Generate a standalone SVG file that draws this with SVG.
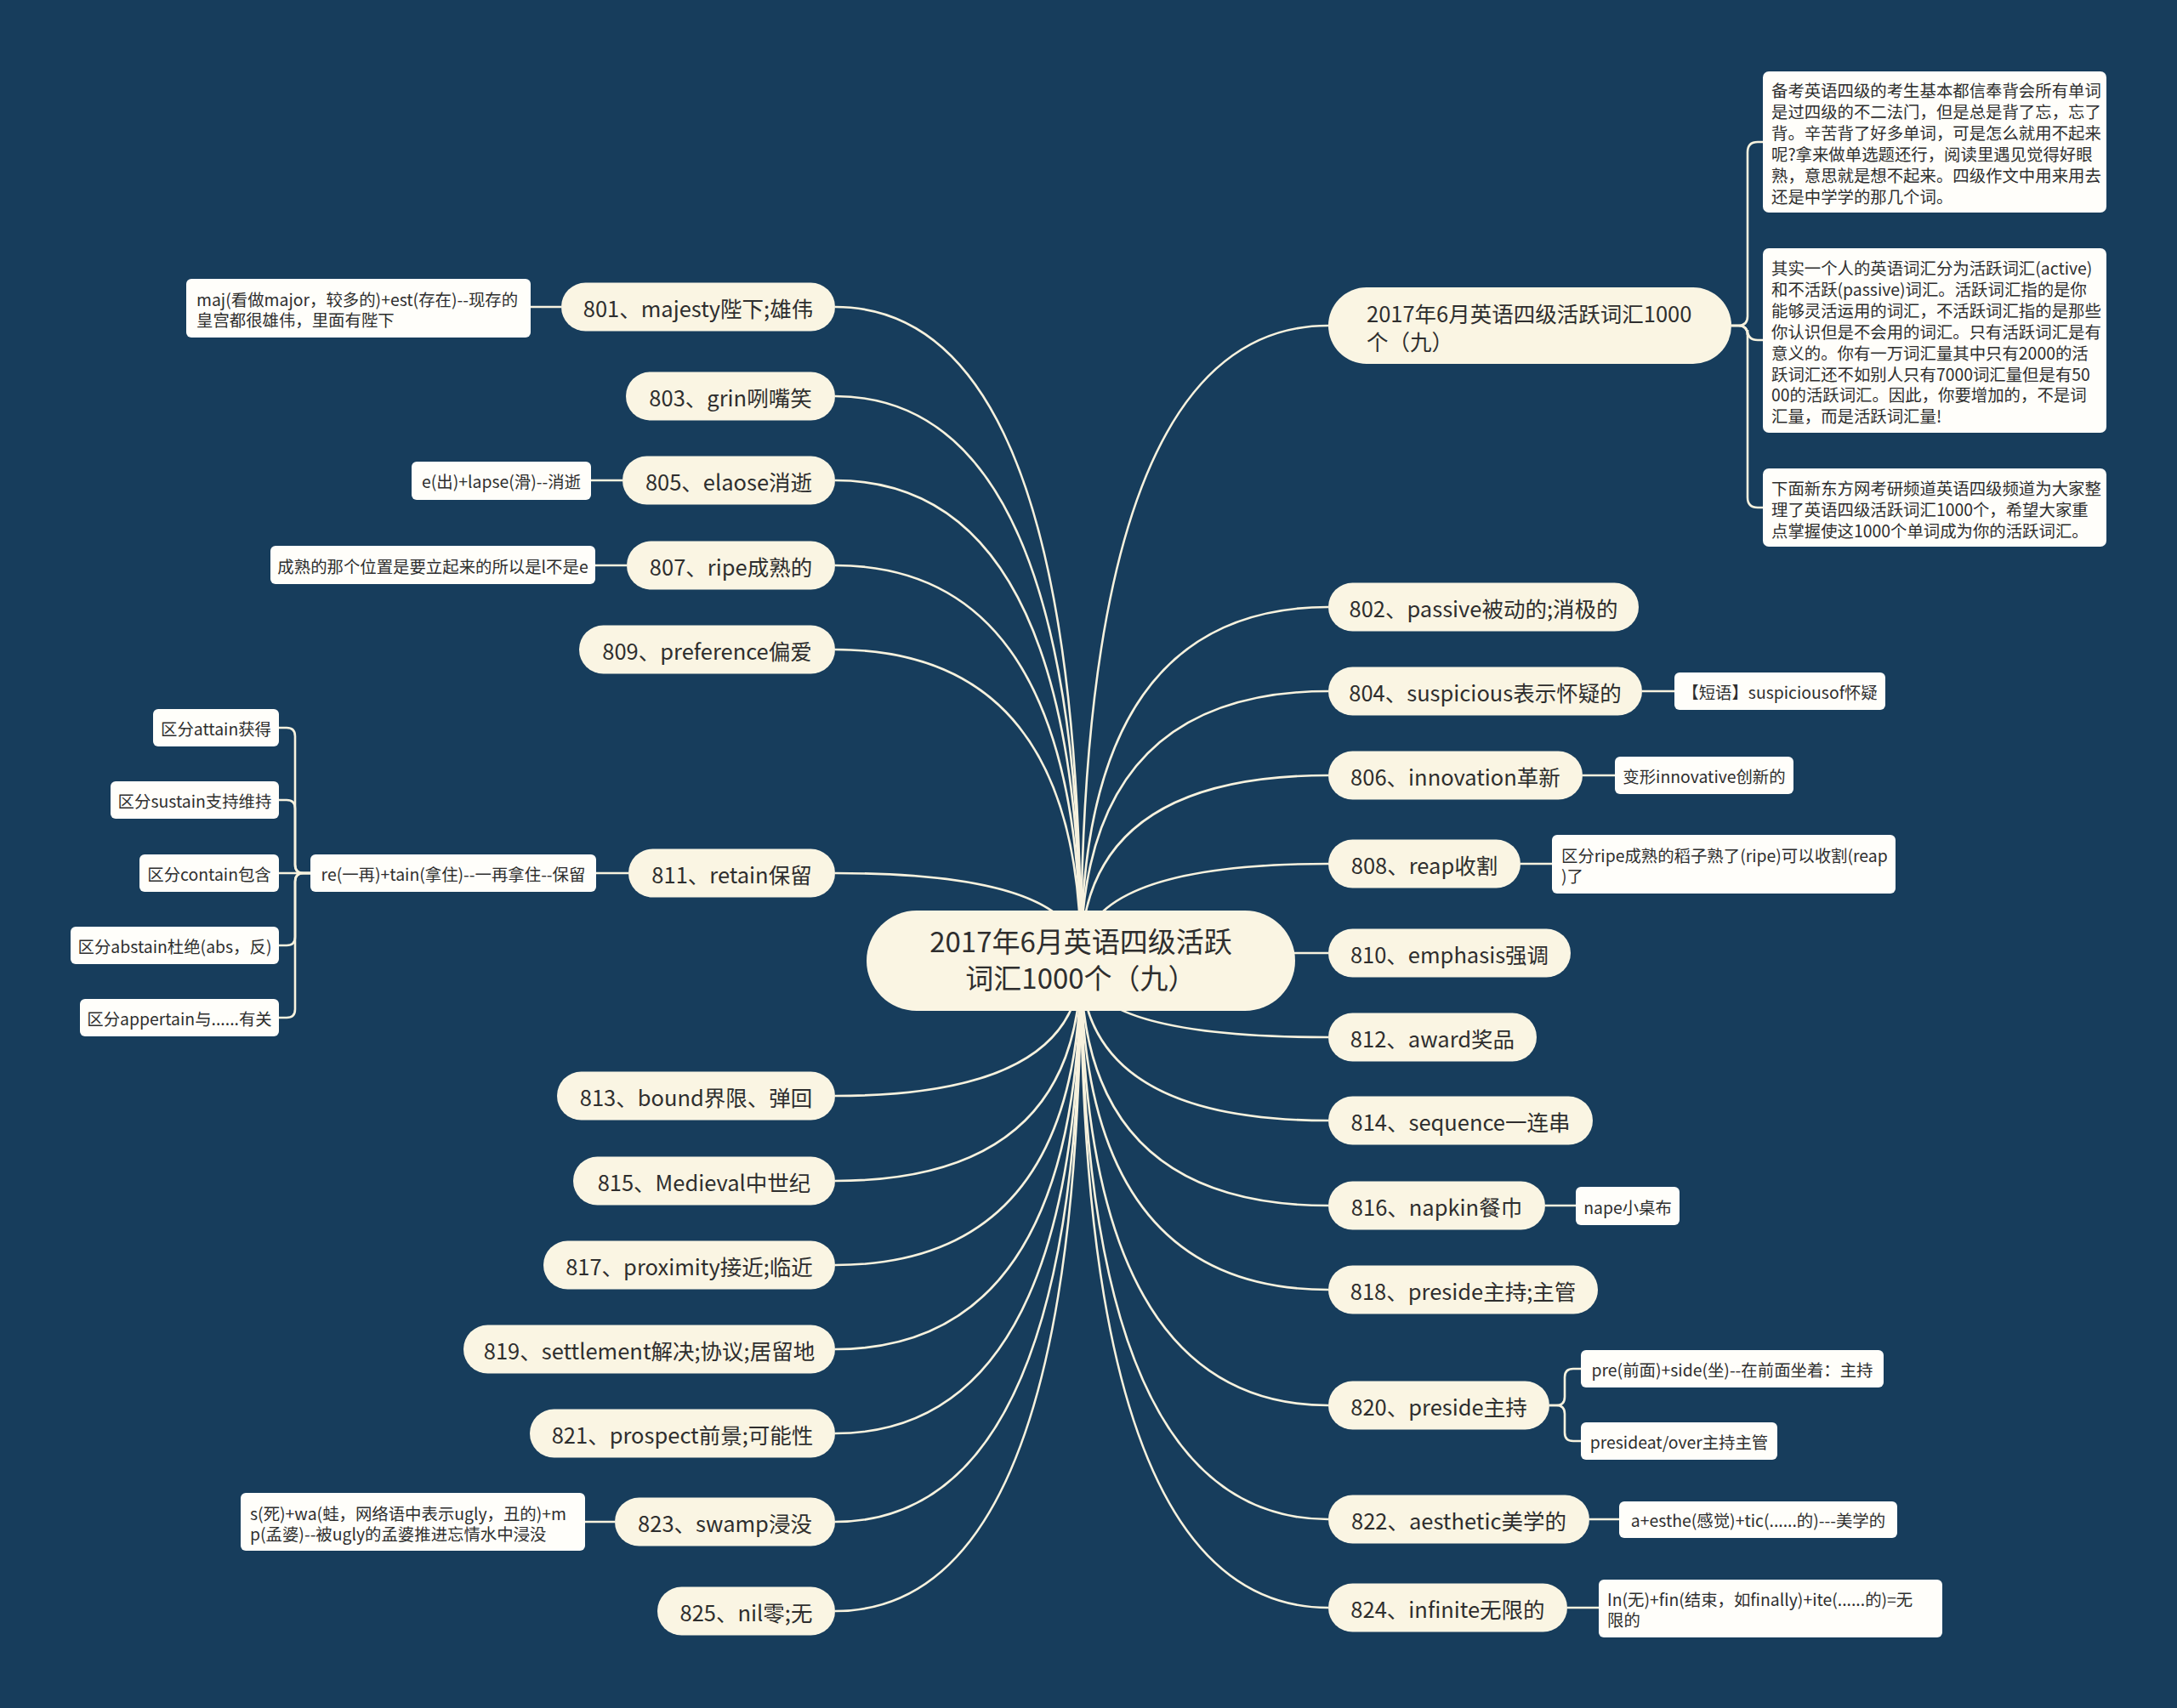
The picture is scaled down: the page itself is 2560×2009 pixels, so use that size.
<svg xmlns="http://www.w3.org/2000/svg" width="2560" height="2009" viewBox="0 0 2560 2009">
<style>
  .bg{fill:#173d5c}
  .lk{fill:none;stroke:#f7f2de;stroke-width:2.6}
  .main{fill:#faf5e3}
  .note{fill:#fffefa}
  text{font-family:"Noto Sans CJK SC","Noto Sans",sans-serif;fill:#2e2e2e;dominant-baseline:central}
  .t1{font-size:25.5px}
  .t0{font-size:33px}
  .tn{font-size:19.4px}
  .m{text-anchor:middle}
</style>
<rect class="bg" x="0" y="0" width="2560" height="2009"/>
<g id="connectors">
  <path class="lk" d="M1271,1130 Q1271,361 982,361"/>
  <path class="lk" d="M1271,1130 Q1271,466 982,466"/>
  <path class="lk" d="M1271,1130 Q1271,565 982,565"/>
  <path class="lk" d="M1271,1130 Q1271,665 982,665"/>
  <path class="lk" d="M1271,1130 Q1271,764 982,764"/>
  <path class="lk" d="M1271,1130 Q1271,1027 982,1027"/>
  <path class="lk" d="M1271,1130 Q1271,1289 982,1289"/>
  <path class="lk" d="M1271,1130 Q1271,1389 982,1389"/>
  <path class="lk" d="M1271,1130 Q1271,1488 982,1488"/>
  <path class="lk" d="M1271,1130 Q1271,1587 982,1587"/>
  <path class="lk" d="M1271,1130 Q1271,1686 982,1686"/>
  <path class="lk" d="M1271,1130 Q1271,1790 982,1790"/>
  <path class="lk" d="M1271,1130 Q1271,1895 982,1895"/>
  <path class="lk" d="M1271,1130 Q1271,383 1562,383"/>
  <path class="lk" d="M1271,1130 Q1271,714 1562,714"/>
  <path class="lk" d="M1271,1130 Q1271,813 1562,813"/>
  <path class="lk" d="M1271,1130 Q1271,912 1562,912"/>
  <path class="lk" d="M1271,1130 Q1271,1016 1562,1016"/>
  <path class="lk" d="M1271,1130 Q1271,1121 1562,1121"/>
  <path class="lk" d="M1271,1130 Q1271,1220 1562,1220"/>
  <path class="lk" d="M1271,1130 Q1271,1318 1562,1318"/>
  <path class="lk" d="M1271,1130 Q1271,1418 1562,1418"/>
  <path class="lk" d="M1271,1130 Q1271,1517 1562,1517"/>
  <path class="lk" d="M1271,1130 Q1271,1653 1562,1653"/>
  <path class="lk" d="M1271,1130 Q1271,1787 1562,1787"/>
  <path class="lk" d="M1271,1130 Q1271,1891 1562,1891"/>
  <path class="lk" d="M624,361 H660"/>
  <path class="lk" d="M695,565 H732"/>
  <path class="lk" d="M700,665 H737"/>
  <path class="lk" d="M701,1027 H739"/>
  <path class="lk" d="M688,1790 H723"/>
  <path class="lk" d="M1931,813 H1969"/>
  <path class="lk" d="M1861,912 H1899"/>
  <path class="lk" d="M1788,1016 H1825"/>
  <path class="lk" d="M1817,1418 H1853"/>
  <path class="lk" d="M1869,1787 H1904"/>
  <path class="lk" d="M1843,1891 H1880"/>
  <path class="lk" d="M2036,383 H2044 Q2055,383 2055,372 V179 Q2055,167 2067,167 H2073"/>
  <path class="lk" d="M2036,383 H2044 Q2055,383 2055,394 V388 Q2055,400 2067,400 H2073"/>
  <path class="lk" d="M2036,383 H2044 Q2055,383 2055,394 V585 Q2055,597 2067,597 H2073"/>
  <path class="lk" d="M1822,1653 H1830 Q1840,1653 1840,1643 V1620 Q1840,1610 1850,1610 H1859"/>
  <path class="lk" d="M1822,1653 H1830 Q1840,1653 1840,1663 V1685 Q1840,1695 1850,1695 H1859"/>
  <path class="lk" d="M365,1027 H357 Q347,1027 347,1017 V866 Q347,856 337,856 H328"/>
  <path class="lk" d="M365,1027 H357 Q347,1027 347,1017 V951 Q347,941 337,941 H328"/>
  <path class="lk" d="M365,1027 H328"/>
  <path class="lk" d="M365,1027 H357 Q347,1027 347,1037 V1102 Q347,1112 337,1112 H328"/>
  <path class="lk" d="M365,1027 H357 Q347,1027 347,1037 V1187 Q347,1197 337,1197 H328"/>
</g>

<g id="root">
  <rect class="main" x="1019" y="1071" width="504" height="118" rx="59"/>
  <text class="t0 m" x="1271" y="1106">2017年6月英语四级活跃</text>
  <text class="t0 m" x="1271" y="1149">词汇1000个（九）</text>
</g>

<g id="r-intro">
  <rect class="main" x="1562" y="338" width="474" height="90" rx="45"/>
  <text class="t1" x="1607" y="367">2017年6月英语四级活跃词汇1000</text>
  <text class="t1" x="1607" y="400">个（九）</text>
</g>
<g id="n802"><rect class="main" x="1562" y="685.5" width="365" height="57" rx="28.5"/><text class="t1 m" x="1744.5" y="714">802、passive被动的;消极的</text></g>
<g id="n804"><rect class="main" x="1562" y="784.5" width="369" height="57" rx="28.5"/><text class="t1 m" x="1746.5" y="813">804、suspicious表示怀疑的</text></g>
<g id="n806"><rect class="main" x="1562" y="883.5" width="299" height="57" rx="28.5"/><text class="t1 m" x="1711.5" y="912">806、innovation革新</text></g>
<g id="n808"><rect class="main" x="1562" y="987.5" width="226" height="57" rx="28.5"/><text class="t1 m" x="1675" y="1016">808、reap收割</text></g>
<g id="n810"><rect class="main" x="1562" y="1092.5" width="285" height="57" rx="28.5"/><text class="t1 m" x="1704.5" y="1121">810、emphasis强调</text></g>
<g id="n812"><rect class="main" x="1562" y="1191.5" width="245" height="57" rx="28.5"/><text class="t1 m" x="1684.5" y="1220">812、award奖品</text></g>
<g id="n814"><rect class="main" x="1562" y="1289.5" width="311" height="57" rx="28.5"/><text class="t1 m" x="1717.5" y="1318">814、sequence一连串</text></g>
<g id="n816"><rect class="main" x="1562" y="1389.5" width="255" height="57" rx="28.5"/><text class="t1 m" x="1689.5" y="1418">816、napkin餐巾</text></g>
<g id="n818"><rect class="main" x="1562" y="1488.5" width="317" height="57" rx="28.5"/><text class="t1 m" x="1720.5" y="1517">818、preside主持;主管</text></g>
<g id="n820"><rect class="main" x="1562" y="1624.5" width="260" height="57" rx="28.5"/><text class="t1 m" x="1692" y="1653">820、preside主持</text></g>
<g id="n822"><rect class="main" x="1562" y="1758.5" width="307" height="57" rx="28.5"/><text class="t1 m" x="1715.5" y="1787">822、aesthetic美学的</text></g>
<g id="n824"><rect class="main" x="1562" y="1862.5" width="281" height="57" rx="28.5"/><text class="t1 m" x="1702.5" y="1891">824、infinite无限的</text></g>

<g id="n801"><rect class="main" x="660" y="332.5" width="322" height="57" rx="28.5"/><text class="t1 m" x="821" y="361">801、majesty陛下;雄伟</text></g>
<g id="n803"><rect class="main" x="736" y="437.5" width="246" height="57" rx="28.5"/><text class="t1 m" x="859" y="466">803、grin咧嘴笑</text></g>
<g id="n805"><rect class="main" x="732" y="536.5" width="250" height="57" rx="28.5"/><text class="t1 m" x="857" y="565">805、elaose消逝</text></g>
<g id="n807"><rect class="main" x="737" y="636.5" width="245" height="57" rx="28.5"/><text class="t1 m" x="859.5" y="665">807、ripe成熟的</text></g>
<g id="n809"><rect class="main" x="681" y="735.5" width="301" height="57" rx="28.5"/><text class="t1 m" x="831.5" y="764">809、preference偏爱</text></g>
<g id="n811"><rect class="main" x="739" y="998.5" width="243" height="57" rx="28.5"/><text class="t1 m" x="860.5" y="1027">811、retain保留</text></g>
<g id="n813"><rect class="main" x="655" y="1260.5" width="327" height="57" rx="28.5"/><text class="t1 m" x="818.5" y="1289">813、bound界限、弹回</text></g>
<g id="n815"><rect class="main" x="674" y="1360.5" width="308" height="57" rx="28.5"/><text class="t1 m" x="828" y="1389">815、Medieval中世纪</text></g>
<g id="n817"><rect class="main" x="639" y="1459.5" width="343" height="57" rx="28.5"/><text class="t1 m" x="810.5" y="1488">817、proximity接近;临近</text></g>
<g id="n819"><rect class="main" x="545" y="1558.5" width="437" height="57" rx="28.5"/><text class="t1 m" x="763.5" y="1587">819、settlement解决;协议;居留地</text></g>
<g id="n821"><rect class="main" x="623" y="1657.5" width="359" height="57" rx="28.5"/><text class="t1 m" x="802.5" y="1686">821、prospect前景;可能性</text></g>
<g id="n823"><rect class="main" x="723" y="1761.5" width="259" height="57" rx="28.5"/><text class="t1 m" x="852.5" y="1790">823、swamp浸没</text></g>
<g id="n825"><rect class="main" x="773" y="1866.5" width="209" height="57" rx="28.5"/><text class="t1 m" x="877.5" y="1895">825、nil零;无</text></g>

<g id="note-intro-1">
  <rect class="note" x="2073" y="84" width="404" height="166" rx="7"/>
  <text class="tn" x="2083" y="105">备考英语四级的考生基本都信奉背会所有单词</text>
  <text class="tn" x="2083" y="130">是过四级的不二法门，但是总是背了忘，忘了</text>
  <text class="tn" x="2083" y="155">背。辛苦背了好多单词，可是怎么就用不起来</text>
  <text class="tn" x="2083" y="180">呢?拿来做单选题还行，阅读里遇见觉得好眼</text>
  <text class="tn" x="2083" y="205">熟，意思就是想不起来。四级作文中用来用去</text>
  <text class="tn" x="2083" y="230">还是中学学的那几个词。</text>
</g>
<g id="note-intro-2">
  <rect class="note" x="2073" y="292" width="404" height="217" rx="7"/>
  <text class="tn" x="2083" y="314">其实一个人的英语词汇分为活跃词汇(active)</text>
  <text class="tn" x="2083" y="339">和不活跃(passive)词汇。活跃词汇指的是你</text>
  <text class="tn" x="2083" y="364">能够灵活运用的词汇，不活跃词汇指的是那些</text>
  <text class="tn" x="2083" y="389">你认识但是不会用的词汇。只有活跃词汇是有</text>
  <text class="tn" x="2083" y="414">意义的。你有一万词汇量其中只有2000的活</text>
  <text class="tn" x="2083" y="439">跃词汇还不如别人只有7000词汇量但是有50</text>
  <text class="tn" x="2083" y="463">00的活跃词汇。因此，你要增加的，不是词</text>
  <text class="tn" x="2083" y="488">汇量，而是活跃词汇量!</text>
</g>
<g id="note-intro-3">
  <rect class="note" x="2073" y="551" width="404" height="92" rx="7"/>
  <text class="tn" x="2083" y="573">下面新东方网考研频道英语四级频道为大家整</text>
  <text class="tn" x="2083" y="598">理了英语四级活跃词汇1000个，希望大家重</text>
  <text class="tn" x="2083" y="623">点掌握使这1000个单词成为你的活跃词汇。</text>
</g>
<g id="note804"><rect class="note" x="1969" y="791" width="248" height="44" rx="6"/><text class="tn m" x="2093" y="813">【短语】suspiciousof怀疑</text></g>
<g id="note806"><rect class="note" x="1899" y="890" width="210" height="44" rx="6"/><text class="tn m" x="2004" y="912">变形innovative创新的</text></g>
<g id="note808">
  <rect class="note" x="1825" y="982" width="404" height="69" rx="6"/>
  <text class="tn" x="1836" y="1005">区分ripe成熟的稻子熟了(ripe)可以收割(reap</text>
  <text class="tn" x="1836" y="1029">)了</text>
</g>
<g id="note816"><rect class="note" x="1853" y="1396" width="122" height="45" rx="6"/><text class="tn m" x="1914" y="1419">nape小桌布</text></g>
<g id="note820a"><rect class="note" x="1859" y="1588" width="356" height="44" rx="6"/><text class="tn m" x="2037" y="1610">pre(前面)+side(坐)--在前面坐着：主持</text></g>
<g id="note820b"><rect class="note" x="1859" y="1673" width="231" height="44" rx="6"/><text class="tn m" x="1974.5" y="1695">presideat/over主持主管</text></g>
<g id="note822"><rect class="note" x="1904" y="1766" width="327" height="43" rx="6"/><text class="tn m" x="2067.5" y="1787">a+esthe(感觉)+tic(......的)---美学的</text></g>
<g id="note824">
  <rect class="note" x="1880" y="1858" width="404" height="68" rx="6"/>
  <text class="tn" x="1890" y="1880">In(无)+fin(结束，如finally)+ite(......的)=无</text>
  <text class="tn" x="1890" y="1904">限的</text>
</g>

<g id="note801">
  <rect class="note" x="219" y="328" width="405" height="69" rx="6"/>
  <text class="tn" x="231" y="351">maj(看做major，较多的)+est(存在)--现存的</text>
  <text class="tn" x="231" y="375">皇宫都很雄伟，里面有陛下</text>
</g>
<g id="note805"><rect class="note" x="484" y="543" width="211" height="45" rx="6"/><text class="tn m" x="589.5" y="565">e(出)+lapse(滑)--消逝</text></g>
<g id="note807"><rect class="note" x="318" y="642" width="382" height="45" rx="6"/><text class="tn m" x="509" y="665">成熟的那个位置是要立起来的所以是l不是e</text></g>
<g id="note811"><rect class="note" x="365" y="1005" width="336" height="44" rx="6"/><text class="tn m" x="533" y="1027">re(一再)+tain(拿住)--一再拿住--保留</text></g>
<g id="note811a"><rect class="note" x="180" y="834" width="148" height="44" rx="6"/><text class="tn m" x="254" y="856">区分attain获得</text></g>
<g id="note811b"><rect class="note" x="130" y="919" width="198" height="44" rx="6"/><text class="tn m" x="229" y="941">区分sustain支持维持</text></g>
<g id="note811c"><rect class="note" x="164" y="1005" width="164" height="44" rx="6"/><text class="tn m" x="246" y="1027">区分contain包含</text></g>
<g id="note811d"><rect class="note" x="83" y="1090" width="245" height="44" rx="6"/><text class="tn m" x="205.5" y="1112">区分abstain杜绝(abs，反)</text></g>
<g id="note811e"><rect class="note" x="94" y="1175" width="234" height="44" rx="6"/><text class="tn m" x="211" y="1197">区分appertain与......有关</text></g>
<g id="note823">
  <rect class="note" x="283" y="1756" width="405" height="68" rx="6"/>
  <text class="tn" x="294" y="1779">s(死)+wa(蛙，网络语中表示ugly，丑的)+m</text>
  <text class="tn" x="294" y="1803">p(孟婆)--被ugly的孟婆推进忘情水中浸没</text>
</g>
</svg>
